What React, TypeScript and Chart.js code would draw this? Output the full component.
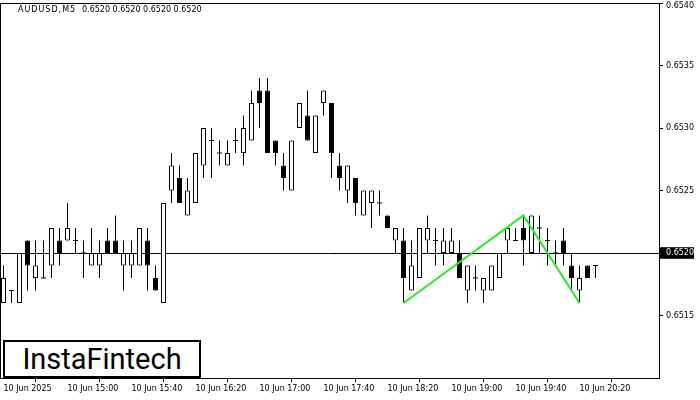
import React, { useEffect, useRef } from "react";
import { Chart, registerables } from "chart.js";

Chart.register(...registerables);

// ---- Data (AUDUSD, M5, 10 Jun 2025, 14:20 .. 20:30) ----
const opens = [
  0.6516, 0.6517, 0.6516, 0.6521, 0.6518, 0.6518, 0.6519, 0.6521, 0.6521, 0.6521,
  0.6520, 0.6519, 0.6519, 0.6521, 0.6521, 0.6519, 0.6519, 0.6519, 0.6521, 0.6518,
  0.6516, 0.6525, 0.6526, 0.6523, 0.6524, 0.6527, 0.6529, 0.6528, 0.6527, 0.6529,
  0.6528, 0.6529, 0.6533, 0.6533, 0.6529, 0.6527, 0.6525, 0.6530, 0.6531, 0.6528,
  0.6532, 0.6532, 0.6527, 0.6525, 0.6526, 0.6523, 0.6524, 0.6524, 0.6523, 0.6521,
  0.6521, 0.6517, 0.6518, 0.6521, 0.6521, 0.6520, 0.6520, 0.6520, 0.6517, 0.6518,
  0.6517, 0.6517, 0.6518, 0.6521, 0.6521, 0.6522, 0.6520, 0.6522, 0.6521, 0.6520,
  0.6521, 0.6519, 0.6517, 0.6519, 0.6519,
];
const highs = [
  0.6519, 0.6517, 0.6520, 0.6521, 0.6521, 0.6521, 0.6522, 0.6522, 0.6524, 0.6522,
  0.6521, 0.6522, 0.6521, 0.6522, 0.6523, 0.6521, 0.6521, 0.6522, 0.6522, 0.6519,
  0.6524, 0.6528, 0.6527, 0.6526, 0.6528, 0.6530, 0.6530, 0.6529, 0.6529, 0.6530,
  0.6531, 0.6533, 0.6534, 0.6534, 0.6529, 0.6528, 0.6529, 0.6532, 0.6533, 0.6531,
  0.6533, 0.6532, 0.6528, 0.6527, 0.6526, 0.6525, 0.6525, 0.6525, 0.6523, 0.6522,
  0.6522, 0.6521, 0.6522, 0.6523, 0.6522, 0.6522, 0.6522, 0.6521, 0.6519, 0.6519,
  0.6518, 0.6519, 0.6520, 0.6522, 0.6522, 0.6523, 0.6523, 0.6523, 0.6522, 0.6521,
  0.6522, 0.6520, 0.6519, 0.6519, 0.6519,
];
const lows = [
  0.6516, 0.6516, 0.6516, 0.6517, 0.6517, 0.6518, 0.6518, 0.6519, 0.6521, 0.6520,
  0.6518, 0.6519, 0.6518, 0.6520, 0.6520, 0.6517, 0.6518, 0.6519, 0.6517, 0.6517,
  0.6516, 0.6524, 0.6524, 0.6523, 0.6524, 0.6526, 0.6526, 0.6527, 0.6527, 0.6528,
  0.6527, 0.6529, 0.6530, 0.6528, 0.6527, 0.6525, 0.6525, 0.6530, 0.6529, 0.6528,
  0.6531, 0.6526, 0.6525, 0.6524, 0.6523, 0.6523, 0.6522, 0.6523, 0.6522, 0.6520,
  0.6516, 0.6517, 0.6518, 0.6520, 0.6519, 0.6519, 0.6520, 0.6518, 0.6516, 0.6517,
  0.6516, 0.6517, 0.6518, 0.6520, 0.6521, 0.6519, 0.6520, 0.6520, 0.6519, 0.6519,
  0.6519, 0.6517, 0.6516, 0.6518, 0.6518,
];
const closes = [
  0.6518, 0.6517, 0.6520, 0.6519, 0.6519, 0.6518, 0.6522, 0.6520, 0.6522, 0.6521,
  0.6520, 0.6520, 0.6520, 0.6520, 0.6520, 0.6520, 0.6520, 0.6522, 0.6519, 0.6517,
  0.6524, 0.6527, 0.6524, 0.6525, 0.6528, 0.6530, 0.6529, 0.6528, 0.6528, 0.6529,
  0.6530, 0.6532, 0.6532, 0.6528, 0.6528, 0.6526, 0.6529, 0.6532, 0.6529, 0.6531,
  0.6533, 0.6528, 0.6526, 0.6527, 0.6524, 0.6525, 0.6525, 0.6524, 0.6522, 0.6522,
  0.6518, 0.6519, 0.6522, 0.6522, 0.6521, 0.6521, 0.6521, 0.6518, 0.6519, 0.6518,
  0.6518, 0.6519, 0.6520, 0.6522, 0.6521, 0.6521, 0.6523, 0.6522, 0.6521, 0.6520,
  0.6520, 0.6518, 0.6518, 0.6518, 0.6519,
];

const bidPrice = 0.652;
const xTickIndex = [0, 8, 16, 24, 32, 40, 48, 56, 64, 72];
const xTickLabels = [
  "10 Jun 2025",
  "10 Jun 15:00",
  "10 Jun 15:40",
  "10 Jun 16:20",
  "10 Jun 17:00",
  "10 Jun 17:40",
  "10 Jun 18:20",
  "10 Jun 19:00",
  "10 Jun 19:40",
  "10 Jun 20:20",
];
const yTickValues = [0.6515, 0.652, 0.6525, 0.653, 0.6535, 0.654];
// double top pattern: bottom, peak, bottom (bar indices)
const patternBars = [50, 65, 72];
const patternKinds = ["low", "high", "low"];

const X_MIN = -0.4375;
const X_MAX = 81.9375;
const Y_MIN = 0.651;
const Y_MAX = 0.654;

const FAMILY = "'DejaVu Sans', sans-serif";
const FONT = { family: FAMILY, size: 8 };

const isBid = (v: number) => Math.abs(v - bidPrice) < 1e-7;
const isTop = (v: number) => Math.abs(v - Y_MAX) < 1e-7;

const framePlugin = {
  id: "frame",
  afterDraw(chart: any) {
    const { ctx, chartArea } = chart;
    ctx.save();
    ctx.strokeStyle = "#000";
    ctx.lineWidth = 1;
    ctx.strokeRect(
      Math.round(chartArea.left) + 0.5,
      Math.round(chartArea.top) + 0.5,
      Math.round(chartArea.right - chartArea.left),
      Math.round(chartArea.bottom - chartArea.top)
    );
    ctx.restore();
  },
};

export default function App() {
  const canvasRef = useRef<HTMLCanvasElement | null>(null);

  useEffect(() => {
    const canvas = canvasRef.current;
    if (!canvas) return;

    const bodies = opens.map((o, i) => ({ x: i, y: [o, closes[i]] }));
    const wicks = lows.map((l, i) => ({ x: i, y: [l, highs[i]] }));
    const dojis = opens
      .map((o, i) => ({ x: i, y: o, d: Math.abs(o - closes[i]) < 1e-9 }))
      .filter((p) => p.d)
      .map((p) => ({ x: p.x, y: p.y }));
    const pattern = patternBars.map((b, k) => ({
      x: b,
      y: patternKinds[k] === "low" ? lows[b] : highs[b],
    }));

    const chart = new Chart(canvas, {
      type: "bar",
      data: {
        datasets: [
          {
            type: "line",
            data: pattern,
            borderColor: "#22ee22",
            borderWidth: 2,
            pointRadius: 0,
            tension: 0,
            order: 0,
          } as any,
          {
            type: "line",
            data: dojis,
            showLine: false,
            pointStyle: "line",
            pointRadius: 2.5,
            pointBorderWidth: 1,
            pointBorderColor: "#000",
            pointBackgroundColor: "#000",
            order: 2,
          } as any,
          {
            type: "bar",
            data: bodies,
            barThickness: 5,
            grouped: false,
            borderWidth: 1,
            borderSkipped: false,
            inflateAmount: 0,
            borderColor: "#000",
            backgroundColor: (ctx: any) => {
              const i = ctx.dataIndex;
              return closes[i] >= opens[i] ? "#fff" : "#000";
            },
            order: 3,
          } as any,
          {
            type: "bar",
            data: wicks,
            barThickness: 1,
            grouped: false,
            borderWidth: 0,
            inflateAmount: 0,
            backgroundColor: "#000",
            order: 4,
          } as any,
        ],
      },
      options: {
        responsive: false,
        animation: false,
        events: [],
        layout: { autoPadding: false, padding: { top: 3, left: 0, right: 0, bottom: 0 } },
        plugins: {
          legend: { display: false },
          tooltip: { enabled: false },
          title: { display: false },
        },
        scales: {
          x: {
            type: "linear",
            position: "bottom",
            min: X_MIN,
            max: X_MAX,
            offset: false,
            grid: {
              display: true,
              drawOnChartArea: false,
              drawTicks: true,
              tickLength: 4,
              color: "#000",
              lineWidth: 1,
            },
            border: { display: false },
            ticks: {
              autoSkip: false,
              maxRotation: 0,
              minRotation: 0,
              align: "start",
              padding: 2,
              color: "#000",
              font: FONT,
              callback: (_v: any, i: number) => xTickLabels[i] ?? "",
            },
            afterBuildTicks: (s: any) => {
              s.ticks = xTickIndex.map((v) => ({ value: v }));
            },
            afterFit: (s: any) => {
              s.height = 22;
              s.paddingLeft = 0;
              s.paddingRight = 0;
            },
          } as any,
          y: {
            type: "linear",
            position: "right",
            min: Y_MIN,
            max: Y_MAX,
            z: 1,
            grid: {
              display: true,
              drawOnChartArea: true,
              drawTicks: true,
              tickLength: 4,
              color: (ctx: any) =>
                ctx.tick && isBid(ctx.tick.value) ? "#000" : "rgba(0,0,0,0)",
              tickColor: "#000",
              lineWidth: 1,
            },
            border: { display: false },
            ticks: {
              padding: 3,
              font: (ctx: any) =>
                ctx.tick && isTop(ctx.tick.value)
                  ? { family: FAMILY, size: 8, lineHeight: 0.85 }
                  : FONT,
              color: (ctx: any) => (ctx.tick && isBid(ctx.tick.value) ? "#fff" : "#000"),
              showLabelBackdrop: (ctx: any) => !!(ctx.tick && isBid(ctx.tick.value)),
              backdropColor: "#000",
              backdropPadding: { left: 6, right: 0, top: 1, bottom: 1 },
              callback: (v: any) => {
                const s = Number(v).toFixed(4);
                return isTop(Number(v)) ? ["", s] : s;
              },
            },
            afterBuildTicks: (s: any) => {
              s.ticks = yTickValues.map((v) => ({ value: v }));
            },
            afterFit: (s: any) => {
              s.width = 41;
              s.paddingTop = 0;
              s.paddingBottom = 0;
            },
          } as any,
        },
      },
      plugins: [framePlugin],
    });

    return () => chart.destroy();
  }, []);

  return (
    <div
      style={{
        position: "absolute",
        left: 0,
        top: 0,
        width: 700,
        height: 400,
        background: "#fff",
        overflow: "hidden",
      }}
    >
      <canvas ref={canvasRef} width={700} height={400} style={{ display: "block" }} />
      <div
        style={{
          position: "absolute",
          left: 18,
          top: 5,
          font: "8px 'DejaVu Sans', sans-serif",
          lineHeight: "10px",
          color: "#000",
          whiteSpace: "pre",
          letterSpacing: "1px",
        }}
      >
        AUDUSD,M5
      </div>
      <div
        style={{
          position: "absolute",
          left: 82,
          top: 5,
          font: "8px 'DejaVu Sans', sans-serif",
          lineHeight: "10px",
          color: "#000",
          whiteSpace: "pre",
        }}
      >
        0.6520 0.6520 0.6520 0.6520
      </div>
      <div
        style={{
          position: "absolute",
          left: 3,
          top: 340,
          width: 198,
          height: 38,
          boxSizing: "border-box",
          border: "2px solid #000",
          background: "#fff",
          display: "flex",
          alignItems: "center",
          justifyContent: "center",
          fontFamily: "Roboto, sans-serif",
          fontSize: 29,
          lineHeight: "34px",
          color: "#000",
        }}
      >
        InstaFintech
      </div>
    </div>
  );
}
